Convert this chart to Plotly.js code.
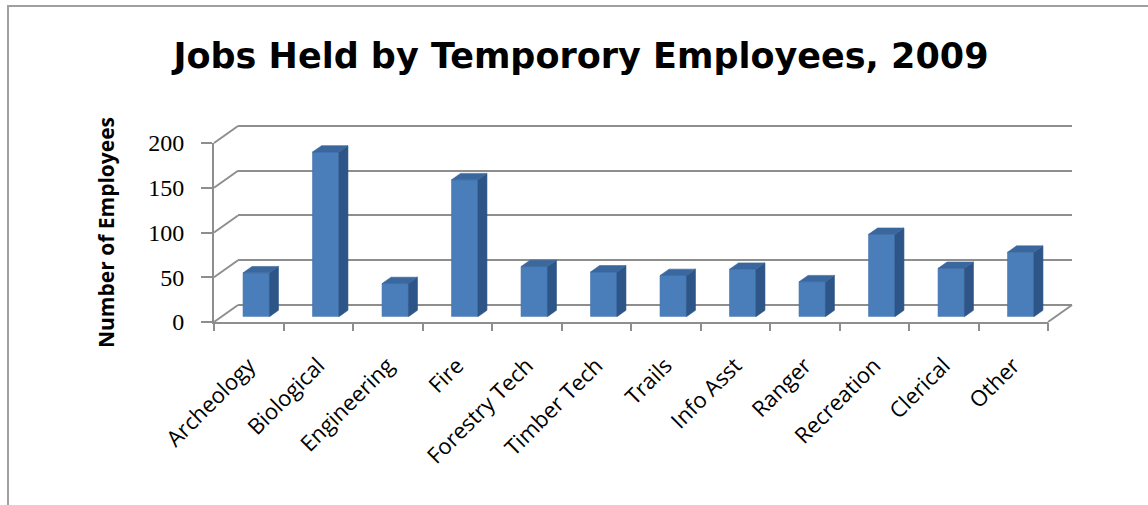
<!DOCTYPE html>
<html>
<head>
<meta charset="utf-8">
<script src="https://cdn.plot.ly/plotly-3.0.1.min.js"></script>
<style>html,body{margin:0;padding:0;background:#fff;}#chart{width:1148px;height:505px;}</style>
</head>
<body>
<div id="chart"></div>
<script>
// ---- data ----
const categories = ["Archeology","Biological","Engineering","Fire","Forestry Tech","Timber Tech","Trails","Info Asst","Ranger","Recreation","Clerical","Other"];
const employees = [49, 184, 37, 153, 56, 50, 46, 53, 39, 92, 54, 72];
const yTicks = [0, 50, 100, 150, 200];
const chartTitle = "Jobs Held by Temporory Employees, 2009";
const yTitle = "Number of Employees";

// ---- geometry (pixels) ----
const W = 1148, H = 505;
const FX0 = 214, FX1 = 1048, FY0 = 322, PPU = 0.895;  // front plane
const DX = 24, DY = 17;                               // wall depth offset
const F1 = 0.3125, F2 = 0.6875;                        // bar depth (fractions)
const CAT = (FX1 - FX0) / categories.length;
const YMAX = 200, PAD = 1.5;
const px = x => x / W, py = y => 1 - y / H;

const idx = categories.map((c, i) => i);
const barW = 0.38, hw = barW / 2;
const ddx = (F2 - F1) * DX / CAT;
const ddy = (F2 - F1) * DY / PPU;

// side and top faces built from the data
const sx = [], sy = [], tx = [], ty = [];
employees.forEach((v, i) => {
  sx.push(i + hw, i + hw, i + hw + ddx, i + hw + ddx, i + hw, null);
  sy.push(0, v, v + ddy, ddy, 0, null);
  tx.push(i - hw, i + hw, i + hw + ddx, i - hw + ddx, i - hw, null);
  ty.push(v, v, v + ddy, v + ddy, v, null);
});

const frontColor = '#4a7ebb', sideColor = '#2d5587', topColor = '#3a679d';

const traces = [
  // empty helper traces so the axis frames are drawn
  {type: 'scatter', mode: 'lines', x: [], y: [], xaxis: 'x3', yaxis: 'y3', hoverinfo: 'skip'},
  {type: 'scatter', mode: 'lines', x: [], y: [], xaxis: 'x', yaxis: 'y', hoverinfo: 'skip'},
  {type: 'scatter', mode: 'lines', x: [], y: [], xaxis: 'x2', yaxis: 'y', hoverinfo: 'skip'},
  {type: 'bar', x: idx, y: employees, width: barW, xaxis: 'x4', yaxis: 'y4',
   marker: {color: frontColor, line: {color: '#4171ab', width: 0.6}}, hoverinfo: 'skip'},
  {type: 'scatter', mode: 'lines', x: sx, y: sy, fill: 'toself', fillcolor: sideColor,
   line: {color: sideColor, width: 0.6}, xaxis: 'x4', yaxis: 'y4', hoverinfo: 'skip'},
  {type: 'scatter', mode: 'lines', x: tx, y: ty, fill: 'toself', fillcolor: topColor,
   line: {color: topColor, width: 0.6}, xaxis: 'x4', yaxis: 'y4', hoverinfo: 'skip'}
];

// decorations: left wall diagonals, floor right edge, border
const shapes = [];
const grey = '#8e8e8e';
yTicks.forEach(v => {
  const yf = FY0 - v * PPU;
  shapes.push({type: 'line', xref: 'paper', yref: 'paper', layer: 'below',
    x0: px(FX0), y0: py(yf), x1: px(FX0 + DX), y1: py(yf - DY), line: {color: grey, width: 2}});
});
shapes.push({type: 'line', xref: 'paper', yref: 'paper', layer: 'below',
  x0: px(FX1), y0: py(FY0), x1: px(FX1 + DX), y1: py(FY0 - DY), line: {color: grey, width: 2}});
shapes.push({type: 'rect', xref: 'paper', yref: 'paper',
  x0: px(8), y0: py(6), x1: px(1200), y1: py(560), line: {color: '#a0a0a0', width: 2}});

const layout = {
  width: W, height: H,
  margin: {l: 0, r: 0, t: 0, b: 0},
  paper_bgcolor: '#fff', plot_bgcolor: 'rgba(0,0,0,0)',
  showlegend: false, hovermode: false,
  title: {text: chartTitle, x: px(581), y: py(56), xanchor: 'center', yanchor: 'middle',
          xref: 'paper', yref: 'paper',
          font: {family: 'DejaVu Sans', size: 35, weight: 'bold', color: '#000'}},
  xaxis: {domain: [px(FX0), px(FX1)], range: [-0.5, categories.length - 0.5], anchor: 'y',
          tickmode: 'array', tickvals: idx, ticktext: categories, tickangle: -45,
          ticks: '', ticklabelstandoff: 20,
          tickfont: {family: 'Open Sans', size: 22, color: '#000'},
          showline: true, linecolor: grey, linewidth: 2, showgrid: false, zeroline: false, fixedrange: true},
  xaxis2: {overlaying: 'x', anchor: 'y', range: [-0.5, categories.length - 0.5],
           tickmode: 'array', tickvals: idx.concat([categories.length]).map(i => i - 0.5),
           ticks: 'outside', ticklen: 8, tickwidth: 2, tickcolor: grey, showticklabels: false,
           showgrid: false, zeroline: false, showline: false, fixedrange: true},
  yaxis: {domain: [py(FY0), py(FY0 - YMAX * PPU)], range: [0, YMAX], anchor: 'x',
          tickmode: 'array', tickvals: yTicks, ticks: 'outside', ticklen: 11, tickwidth: 2, tickcolor: grey,
          ticklabelstandoff: 12,
          tickfont: {family: 'Liberation Serif', size: 24, color: '#000'},
          showline: true, linecolor: grey, linewidth: 2, showgrid: false, zeroline: false,
          title: {text: yTitle, standoff: 28, font: {family: 'Open Sans', size: 21, weight: 'bold', color: '#000'}},
          fixedrange: true},
  xaxis3: {domain: [px(FX0 + DX), px(FX1 + DX)], range: [0, 1], anchor: 'y3',
           showticklabels: false, ticks: '', showgrid: false, zeroline: false, showline: false, fixedrange: true},
  yaxis3: {domain: [py(FY0 - DY + PAD * PPU), py(FY0 - DY - (YMAX + PAD) * PPU)], range: [-PAD, YMAX + PAD], anchor: 'x3',
           tickmode: 'array', tickvals: yTicks, showticklabels: false, ticks: '',
           showgrid: true, gridcolor: grey, gridwidth: 2, zeroline: false, showline: false, fixedrange: true},
  xaxis4: {domain: [px(FX0 + F1 * DX), px(FX1 + F1 * DX)], range: [-0.5, categories.length - 0.5], anchor: 'y4',
           visible: false, showgrid: false, zeroline: false, fixedrange: true},
  yaxis4: {domain: [py(FY0 - F1 * DY), py(FY0 - F1 * DY - YMAX * PPU)], range: [0, YMAX], anchor: 'x4',
           visible: false, showgrid: false, zeroline: false, fixedrange: true},
  shapes: shapes
};

Plotly.newPlot('chart', traces, layout, {displayModeBar: false, staticPlot: true});
</script>
</body>
</html>
